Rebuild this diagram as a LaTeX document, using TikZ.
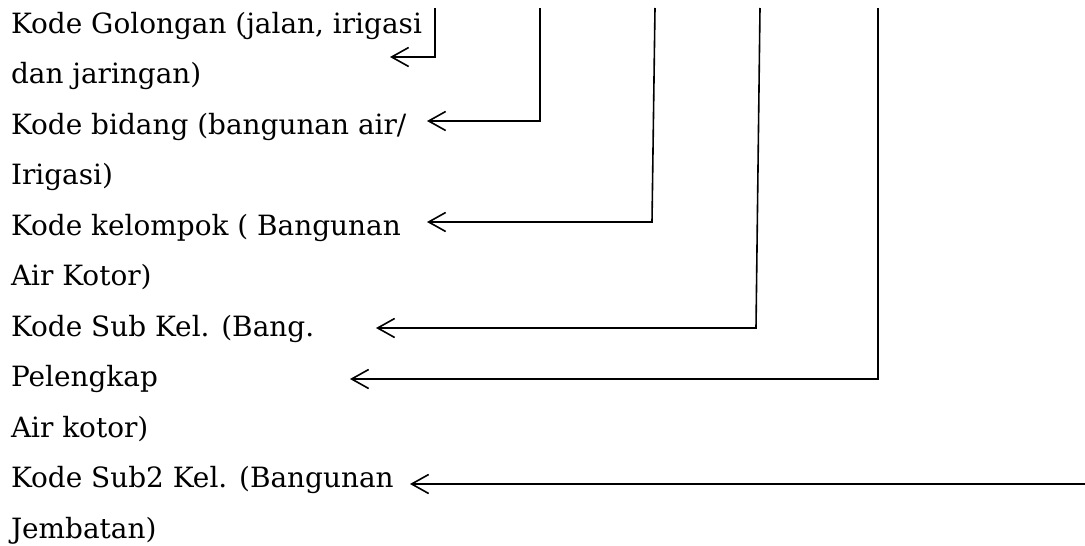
\documentclass[tikz,border=0pt]{standalone}
\usepackage{fontspec}
\setmainfont{DejaVu Serif}
\usetikzlibrary{arrows.meta}
\newlength\reflen
\newcommand\mainsz{\fontsize{\fs pt}{\fs pt}\selectfont}
\begin{document}
\settowidth\reflen{\fontsize{10pt}{12pt}\selectfont Kode Golongan (jalan, irigasi}%
\pgfmathsetmacro\fs{10*411/\reflen}%
\begin{tikzpicture}[x=1pt,y=-1pt,
  lbl/.style={anchor=base west,inner sep=0pt,outer sep=0pt,font=\mainsz},
  link/.style={line width=1.6pt,-{Straight Barb[length=17pt,width=19pt,line width=1.6pt]}}]
\useasboundingbox (0,0) rectangle (1085,546);
\node[lbl] (l1)  at (11,33)    {Kode Golongan (jalan, irigasi};
\node[lbl] (l2)  at (11,83.5)  {dan jaringan)};
\node[lbl] (l3)  at (11,134)   {Kode bidang (bangunan air/};
\node[lbl] (l4)  at (11,184.5) {Irigasi)};
\node[lbl] (l5)  at (11,235)   {Kode kelompok ( Bangunan};
\node[lbl] (l6)  at (11,285.5) {Air Kotor)};
\node[lbl] (l7)  at (11,336)   {Kode Sub Kel. (Bang.};
\node[lbl] (l8)  at (11,386.5) {Pelengkap};
\node[lbl] (l9)  at (11,437)   {Air kotor)};
\node[lbl] (l10) at (11,487.5) {Kode Sub2 Kel. (Bangunan};
\node[lbl] (l11) at (11,538)   {Jembatan)};
\coordinate (s1) at (435,8);   \coordinate (c1) at (435,57);  \coordinate (t1) at (390,57);
\coordinate (s2) at (540,8);   \coordinate (c2) at (540,121); \coordinate (t2) at (427,121);
\coordinate (s3) at (655,8);   \coordinate (c3) at (652,222); \coordinate (t3) at (427,222);
\coordinate (s4) at (760,8);   \coordinate (c4) at (756,328); \coordinate (t4) at (376,328);
\coordinate (s5) at (878,8);   \coordinate (c5) at (878,379); \coordinate (t5) at (350,379);
\coordinate (s6) at (1085,484); \coordinate (t6) at (410,484);
\draw[link] (s1) -- (c1) -- (t1);
\draw[link] (s2) -- (c2) -- (t2);
\draw[link] (s3) -- (c3) -- (t3);
\draw[link] (s4) -- (c4) -- (t4);
\draw[link] (s5) -- (c5) -- (t5);
\draw[link] (s6) -- (t6);
\end{tikzpicture}
\end{document}
